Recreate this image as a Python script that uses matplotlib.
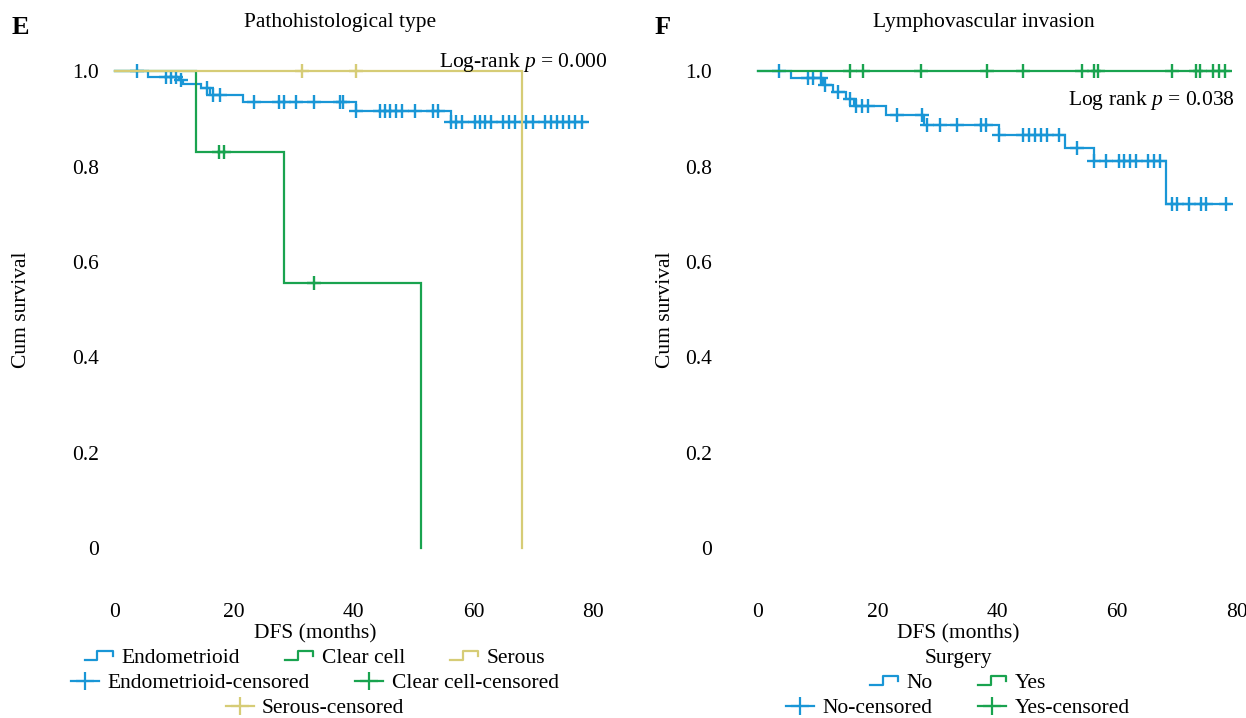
import numpy as np
import matplotlib
matplotlib.use("Agg")
import matplotlib.pyplot as plt
from matplotlib.lines import Line2D
from matplotlib.legend_handler import HandlerBase

plt.rcParams['font.family'] = ['Liberation Serif', 'DejaVu Serif']
plt.rcParams['mathtext.fontset'] = 'custom'
plt.rcParams['mathtext.rm'] = 'Liberation Serif'
plt.rcParams['mathtext.it'] = 'Liberation Serif:italic'

BLUE = '#1996d6'
GREEN = '#19a34f'
YELLOW = '#d6cc76'
FS = 15.5
W, H = 1246, 718

# ---- panel E: pathohistological type ----
endo_t = [0, 5.6, 10.7, 11.5, 14.5, 16.0, 21.4, 40.3, 56.2]
endo_s = [1.0, 0.989, 0.982, 0.974, 0.964, 0.950, 0.936, 0.917, 0.894]
endo_end = 78.8
endo_cens = [3.7, 8.6, 9.4, 10.3, 11.1, 15.4, 16.4, 17.6, 23.3, 27.5, 28.3, 30.3,
             33.3, 37.6, 38.2, 40.3, 44.3, 45.2, 46.1, 47.1, 48.1, 50.2, 53.2, 54.0,
             56.3, 57.1, 58.0, 60.3, 61.1, 61.9, 63.0, 65.0, 66.0, 67.0, 68.8, 69.9,
             72.0, 72.9, 73.9, 74.9, 75.9, 77.0, 78.1]

clear_t = [0, 13.6, 28.3, 51.2]
clear_s = [1.0, 0.830, 0.556, 0.0]
clear_cens = [17.5, 18.3, 33.3]

serous_t = [0, 68.1]
serous_s = [1.0, 0.0]
serous_cens = [31.4, 40.3]

# ---- panel F: lymphovascular invasion ----
no_t = [0, 5.5, 10.9, 12.6, 14.7, 16.1, 21.4, 27.8, 40.2, 51.2, 56.1, 68.1]
no_s = [1.0, 0.986, 0.971, 0.957, 0.942, 0.927, 0.908, 0.888, 0.866, 0.840, 0.811, 0.721]
no_end = 78.8
no_cens = [3.5, 8.3, 9.2, 10.5, 11.2, 13.4, 15.4, 16.4, 17.4, 18.4, 23.3, 27.4, 28.2,
           30.4, 33.2, 37.2, 38.1, 40.2, 44.3, 45.3, 46.2, 47.3, 48.2, 50.3, 53.2,
           56.1, 58.1, 60.3, 61.1, 62.1, 63.1, 65.2, 66.2, 67.1, 69.1, 69.9, 72.0,
           74.0, 74.9, 78.1]

yes_t = [0]
yes_s = [1.0]
yes_end = 78.7
yes_cens = [15.4, 17.5, 27.3, 38.3, 44.2, 54.1, 56.1, 56.8, 69.1, 73.1, 73.9, 76.0,
            77.0, 78.0]

xticks = [0, 20, 40, 60, 80]
yticks = [0, 0.2, 0.4, 0.6, 0.8, 1.0]
ylabels = ['0', '0.2', '0.4', '0.6', '0.8', '1.0']


def km(ax, t, s, end, cens, color):
    tt = list(t)
    ss = list(s)
    if end is not None:
        tt.append(end)
        ss.append(s[-1])
    ax.step(tt, ss, where='post', color=color, lw=1.6, solid_joinstyle='miter')
    cy = [s[np.searchsorted(t, c, side='right') - 1] for c in cens]
    ax.plot(cens, cy, ls='none', marker='+', ms=10, mew=1.7, color=color)


class StepHandler(HandlerBase):
    def create_artists(self, legend, orig_handle, xdescent, ydescent,
                       width, height, fontsize, trans):
        x0, y0 = -xdescent, -ydescent
        xs = [x0, x0 + 0.45 * width, x0 + 0.45 * width, x0 + width, x0 + width]
        ys = [y0 + 0.2 * height, y0 + 0.2 * height, y0 + 0.8 * height,
              y0 + 0.8 * height, y0 + 0.45 * height]
        ln = Line2D(xs, ys, color=orig_handle.get_color(), lw=1.6, transform=trans)
        return [ln]


def style(ax, xl, xr):
    ax.set_xlim(xl, xr)
    ax.set_ylim(-0.08, 1.06)
    ax.set_xticks(xticks)
    ax.set_yticks(yticks)
    ax.set_yticklabels(ylabels)
    ax.tick_params(length=0, labelsize=FS)
    ax.tick_params(axis='x', pad=12.5)
    ax.tick_params(axis='y', pad=3)
    for sp in ax.spines.values():
        sp.set_visible(False)


def row_legend(fig, handles, labels, xc, yc, hmap):
    fig.legend(handles, labels, loc='center', bbox_to_anchor=(xc / W, 1 - yc / H),
               ncol=len(handles), frameon=False, fontsize=FS, handlelength=1.3,
               handletextpad=0.4, columnspacing=2.1, borderpad=0, borderaxespad=0,
               handler_map=hmap)


fig = plt.figure(figsize=(W / 100, H / 100), dpi=100)

# left axes: data x=0 at px 114.7, 5.979 px per month; y=1 at 71.3, y=0 at 548
axE = fig.add_axes([103 / W, 1 - 586.1 / H, (611 - 103) / W, (586.1 - 42.7) / H])
style(axE, -1.96, 83)
km(axE, endo_t, endo_s, endo_end, endo_cens, BLUE)
km(axE, clear_t, clear_s, None, clear_cens, GREEN)
km(axE, serous_t, serous_s, None, serous_cens, YELLOW)

axF = fig.add_axes([716 / W, 1 - 586.1 / H, (1246 - 716) / W, (586.1 - 42.7) / H])
style(axF, -7.0, 81.5)
km(axF, no_t, no_s, no_end, no_cens, BLUE)
km(axF, yes_t, yes_s, yes_end, yes_cens, GREEN)

# texts
fig.text(20 / W, 1 - 27 / H, 'E', fontsize=19, fontweight='bold', ha='center', va='center')
fig.text(663 / W, 1 - 27 / H, 'F', fontsize=19, fontweight='bold', ha='center', va='center')
fig.text(340 / W, 1 - 23 / H, 'Pathohistological type', fontsize=FS, ha='center', va='center')
fig.text(984 / W, 1 - 23 / H, 'Lymphovascular invasion', fontsize=FS, ha='center', va='center')
fig.text(608 / W, 1 - 62 / H, 'Log-rank $p$ = 0.000', fontsize=FS, ha='right', va='center')
fig.text(1235 / W, 1 - 100 / H, 'Log rank $p$ = 0.038', fontsize=FS, ha='right', va='center')
fig.text(22 / W, 1 - 310 / H, 'Cum survival', fontsize=FS, rotation=90, ha='center', va='center')
fig.text(665 / W, 1 - 310 / H, 'Cum survival', fontsize=FS, rotation=90, ha='center', va='center')
fig.text(315 / W, 1 - 634 / H, 'DFS (months)', fontsize=FS, ha='center', va='center')
fig.text(958 / W, 1 - 634 / H, 'DFS (months)', fontsize=FS, ha='center', va='center')
fig.text(958 / W, 1 - 658 / H, 'Surgery', fontsize=FS, ha='center', va='center')

# legends
sE = [Line2D([], [], color=c) for c in (BLUE, GREEN, YELLOW)]
cE = [Line2D([], [], color=c, marker='+', ms=13, mew=1.6, lw=1.6) for c in (BLUE, GREEN, YELLOW)]
hmapE = {h: StepHandler() for h in sE}
row_legend(fig, sE, ['Endometrioid', 'Clear cell', 'Serous'], 315, 658, hmapE)
row_legend(fig, cE[:2], ['Endometrioid-censored', 'Clear cell-censored'], 315, 683, hmapE)
row_legend(fig, cE[2:], ['Serous-censored'], 315, 708, hmapE)

sF = [Line2D([], [], color=c) for c in (BLUE, GREEN)]
cF = [Line2D([], [], color=c, marker='+', ms=13, mew=1.6, lw=1.6) for c in (BLUE, GREEN)]
hmapF = {h: StepHandler() for h in sF}
row_legend(fig, sF, ['No', 'Yes'], 958, 683, hmapF)
row_legend(fig, cF, ['No-censored', 'Yes-censored'], 958, 708, hmapF)

fig.savefig('out.png', dpi=100)
